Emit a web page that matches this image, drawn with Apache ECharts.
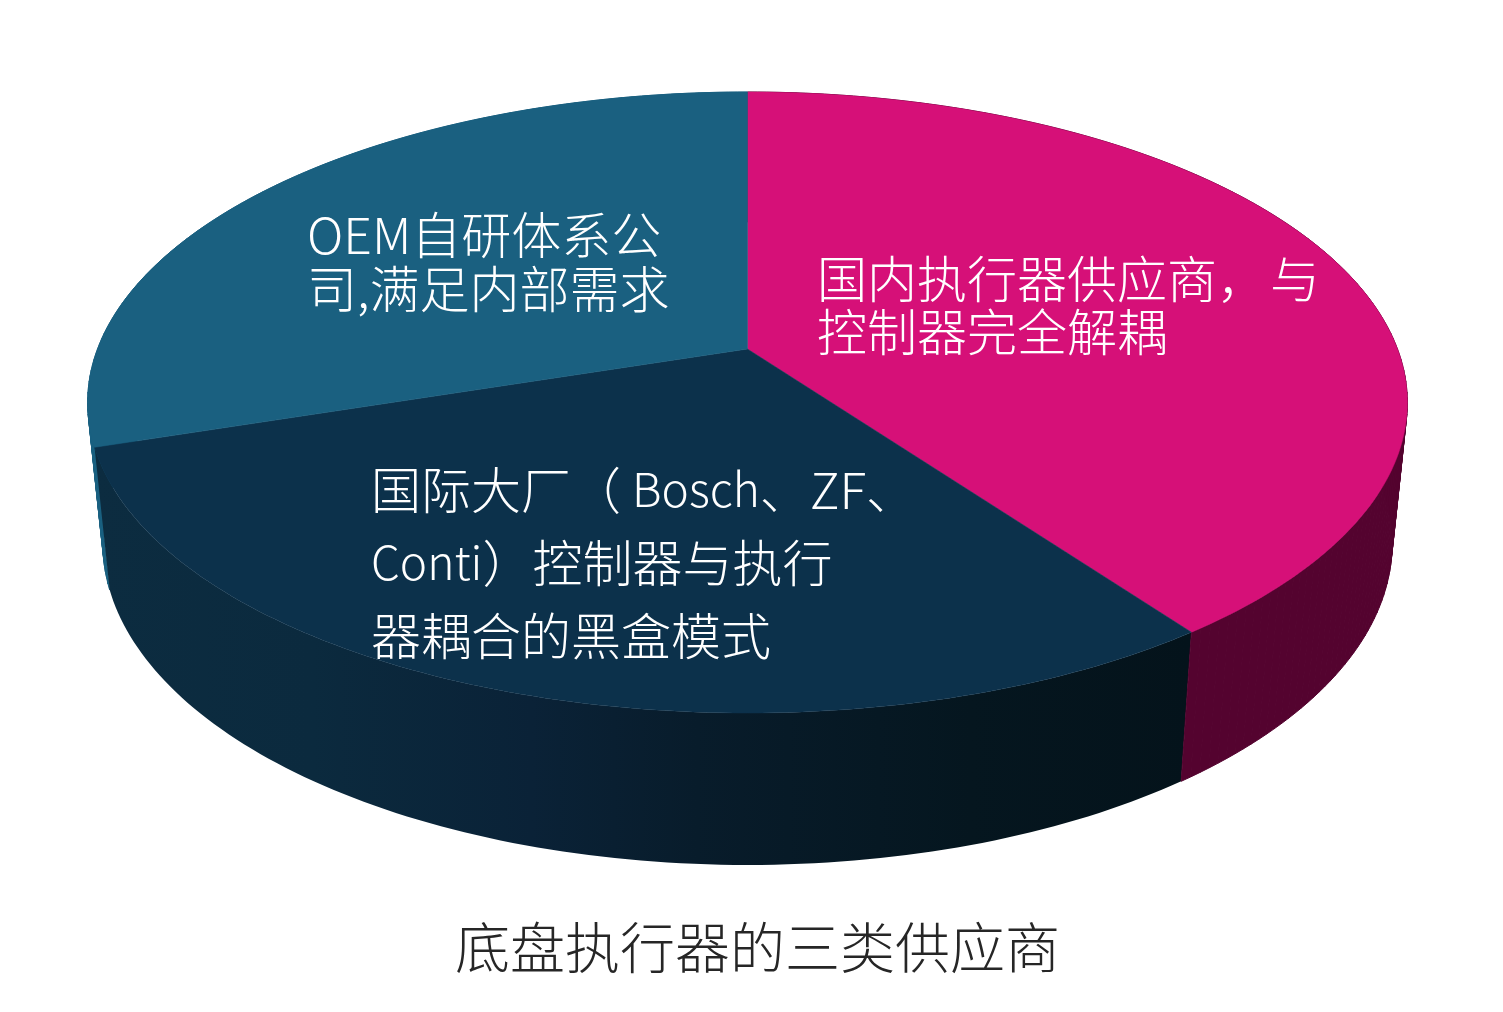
<!DOCTYPE html>
<html><head><meta charset="utf-8">
<script src="https://cdn.jsdelivr.net/npm/echarts@6/dist/echarts.min.js"></script>
<style>html,body{margin:0;padding:0;background:#fff}#c{width:1503px;height:1012px}</style>
</head><body><div id="c"></div>
<script>
const categories = ['国内执行器供应商，与控制器完全解耦','国际大厂（ Bosch、ZF、Conti）控制器与执行器耦合的黑盒模式','OEM自研体系公司,满足内部需求'];
const values = [40, 30, 30];
const topColors = ['#d61078', '#0c314b', '#1a6080'];
const labelLines = [
  ['国内执行器供应商，\u200a与', '控制器完全解耦'],
  ['国际大厂（ {n|Bosch}、ZF、', '{n|Conti}）控制器与执行', '器耦合的黑盒模式'],
  ['OEM自研体系公', '司,满足内部需求']
];
const caption = '底盘执行器的三类供应商';

const FONT = '"Noto Sans CJK SC"';
const wallFills = [
  '#54032f',
  {type:'linear', x:93, y:0, x2:1190, y2:0, global:true, colorStops:[
    {offset:0,color:'#0c2c40'},{offset:0.2,color:'#0b2a3e'},{offset:0.4,color:'#0a2237'},
    {offset:0.55,color:'#081c2b'},{offset:0.8,color:'#05161f'},{offset:1,color:'#04131b'}]},
  '#1a6080'
];
const labelStyle = [
  {x:817, y:305, lh:53},
  {x:371, y:563, lh:73},
  {x:307, y:262, lh:54}
];
const total = values.reduce((a,b)=>a+b,0);
function startAngle(i){ let s=0; for(let k=0;k<i;k++) s+=values[k]; return s/total*2*Math.PI; }
const upper = {cx:747.5, cy:349, kx:650, ky:301.3};
const lower = {cx:747.5, cy:488, kx:635, ky:312};
const P = 0.1723;
function proj(r, t){
  const u=Math.sin(t), v=-Math.cos(t), d=1-P*v;
  return [r.cx+r.kx*u/d, r.cy+r.ky*v/d];
}
function arc(r, t0, t1){
  const n=Math.max(8,Math.ceil(Math.abs(t1-t0)/(Math.PI/180)));
  const pts=[];
  for(let i=0;i<=n;i++) pts.push(proj(r,t0+(t1-t0)*i/n));
  return pts;
}
function wallShapes(t0,t1,fill){
  if(typeof fill!=='string'){
    return [{type:'polygon',shape:{points:arc(upper,t0,t1).concat(arc(lower,t1,t0))},style:{fill:fill}}];
  }
  const a=arc(upper,t0,t1), b=arc(lower,t0,t1), out=[];
  for(let i=0;i<a.length-1;i++){
    out.push({type:'polygon',shape:{points:[a[i],a[i+1],b[i+1],b[i]]},
      style:{fill:fill,stroke:fill,lineWidth:1}});
  }
  return out;
}
const chart = echarts.init(document.getElementById('c'), null, {renderer:'canvas'});
const dataRows = values.map((v,i)=>({value:v,name:categories[i]}));
chart.setOption({
  animation:false,
  backgroundColor:'#ffffff',
  title:{text:caption,left:455,top:914,padding:0,
    textStyle:{fontFamily:FONT,fontSize:55,fontWeight:300,color:'#262626',lineHeight:66}},
  series:[
    {type:'custom',coordinateSystem:'none',silent:true,z:1,data:dataRows.slice().reverse(),
     renderItem(params){
       const i=values.length-1-params.dataIndex, t0=startAngle(i), t1=t0+values[i]/total*2*Math.PI;
       return {type:'group',children:wallShapes(t0,t1,wallFills[i])};
     }},
    {type:'custom',coordinateSystem:'none',silent:true,z:2,data:dataRows,
     renderItem(params){
       const i=params.dataIndex, t0=startAngle(i), t1=t0+values[i]/total*2*Math.PI;
       return {type:'polygon',shape:{points:[[upper.cx,upper.cy]].concat(arc(upper,t0,t1))},
         style:{fill:topColors[i],stroke:topColors[i],lineWidth:0.5}};
     }},
    {type:'custom',coordinateSystem:'none',silent:true,z:3,data:dataRows,
     renderItem(params){
       const i=params.dataIndex, L=labelStyle[i];
       return {type:'group',children:labelLines[i].map((s,k)=>({type:'text',
         style:{text:s,x:L.x,y:L.y+(k-(labelLines[i].length-1)/2)*L.lh,
           textAlign:'left',textVerticalAlign:'middle',fill:'#ffffff',
           fontFamily:FONT,fontSize:50,fontWeight:300,
           rich:{n:{fontFamily:FONT,fontSize:46,fontWeight:300,fill:'#ffffff'}}}}))};
     }}
  ]
});
</script></body></html>
